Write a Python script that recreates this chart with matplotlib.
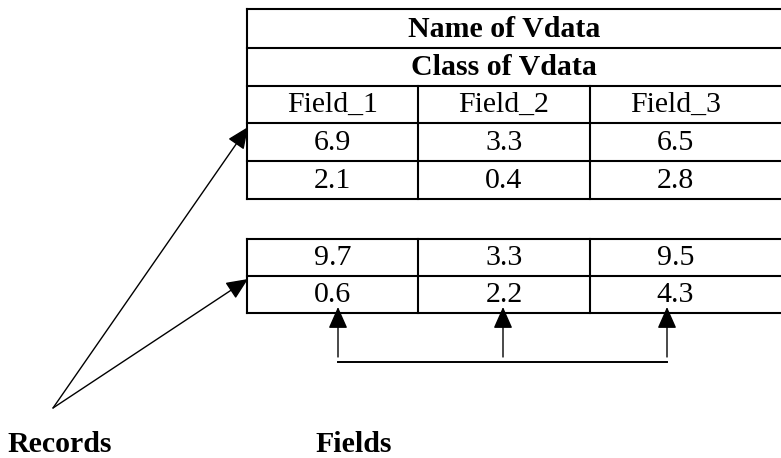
import matplotlib.pyplot as plt
from matplotlib.lines import Line2D

# table content
vdata_name = 'Name of Vdata'
vdata_class = 'Class of Vdata'
field_names = ['Field_1', 'Field_2', 'Field_3']
block1 = [[6.9, 3.3, 6.5],
          [2.1, 0.4, 2.8]]
block2 = [[9.7, 3.3, 9.5],
          [0.6, 2.2, 4.3]]
label_records = 'Records'
label_fields = 'Fields'

plt.rcParams['font.family'] = ['Liberation Serif', 'DejaVu Serif']

fig = plt.figure(figsize=(7.81, 4.58), dpi=100)
ax = fig.add_axes([0, 0, 1, 1])
ax.set_xlim(0, 781)
ax.set_ylim(458, 0)
ax.axis('off')

x0 = 247
col_w = 171.3
x_end = 785
cols = [x0 + col_w * i for i in range(4)]
centers = [x0 + col_w * (i + 0.5) for i in range(3)]
lw = 1.5
fs = 21.5

def hline(y, xa=x0, xb=x_end, w=lw):
    ax.add_line(Line2D([xa, xb], [y, y], color='black', lw=w, solid_capstyle='projecting'))

def vline(x, ya, yb, w=lw):
    ax.add_line(Line2D([x, x], [ya, yb], color='black', lw=w, solid_capstyle='projecting'))

# first table
rows_y = [9, 47.5, 85.5, 123, 161, 199]
for y in rows_y:
    hline(y)
vline(x0, rows_y[0], rows_y[-1])
for x in cols[1:3]:
    vline(x, rows_y[2], rows_y[-1])

ax.text((x0 + cols[3]) / 2, (rows_y[0] + rows_y[1]) / 2 + 1, vdata_name, ha='center', va='center',
        fontsize=fs, fontweight='bold')
ax.text((x0 + cols[3]) / 2, (rows_y[1] + rows_y[2]) / 2 + 1, vdata_class, ha='center', va='center',
        fontsize=fs, fontweight='bold')
for c, name in zip(centers, field_names):
    ax.text(c, (rows_y[2] + rows_y[3]) / 2 + 1, name, ha='center', va='center', fontsize=fs)
for r, row in enumerate(block1):
    ym = (rows_y[3 + r] + rows_y[4 + r]) / 2 + 1
    for c, v in zip(centers, row):
        ax.text(c, ym, f'{v:.1f}', ha='center', va='center', fontsize=fs)

# second table
rows2_y = [238.5, 276, 313]
for y in rows2_y:
    hline(y)
vline(x0, rows2_y[0], rows2_y[-1])
for x in cols[1:3]:
    vline(x, rows2_y[0], rows2_y[-1])
for r, row in enumerate(block2):
    ym = (rows2_y[r] + rows2_y[r + 1]) / 2 + 1
    for c, v in zip(centers, row):
        ax.text(c, ym, f'{v:.1f}', ha='center', va='center', fontsize=fs)

arrow_kw = dict(arrowstyle='-|>,head_length=0.95,head_width=0.42', color='black', lw=1.0,
                shrinkA=0, shrinkB=0, mutation_scale=14)

# record arrows
src = (53, 408)
for tip in [(248, 127), (248, 279)]:
    ax.annotate('', xy=tip, xytext=src, arrowprops=arrow_kw)

# field arrows
field_x = [338, 503, 667]
for fx in field_x:
    ax.annotate('', xy=(fx, 307), xytext=(fx, 357), arrowprops=arrow_kw)
ax.add_line(Line2D([field_x[0], field_x[-1]], [362, 362], color='black', lw=1.4))

ax.text(7, 452, label_records, ha='left', va='baseline', fontsize=fs, fontweight='bold')
ax.text(354, 452, label_fields, ha='center', va='baseline', fontsize=fs, fontweight='bold')

fig.savefig('out.png', dpi=100)
